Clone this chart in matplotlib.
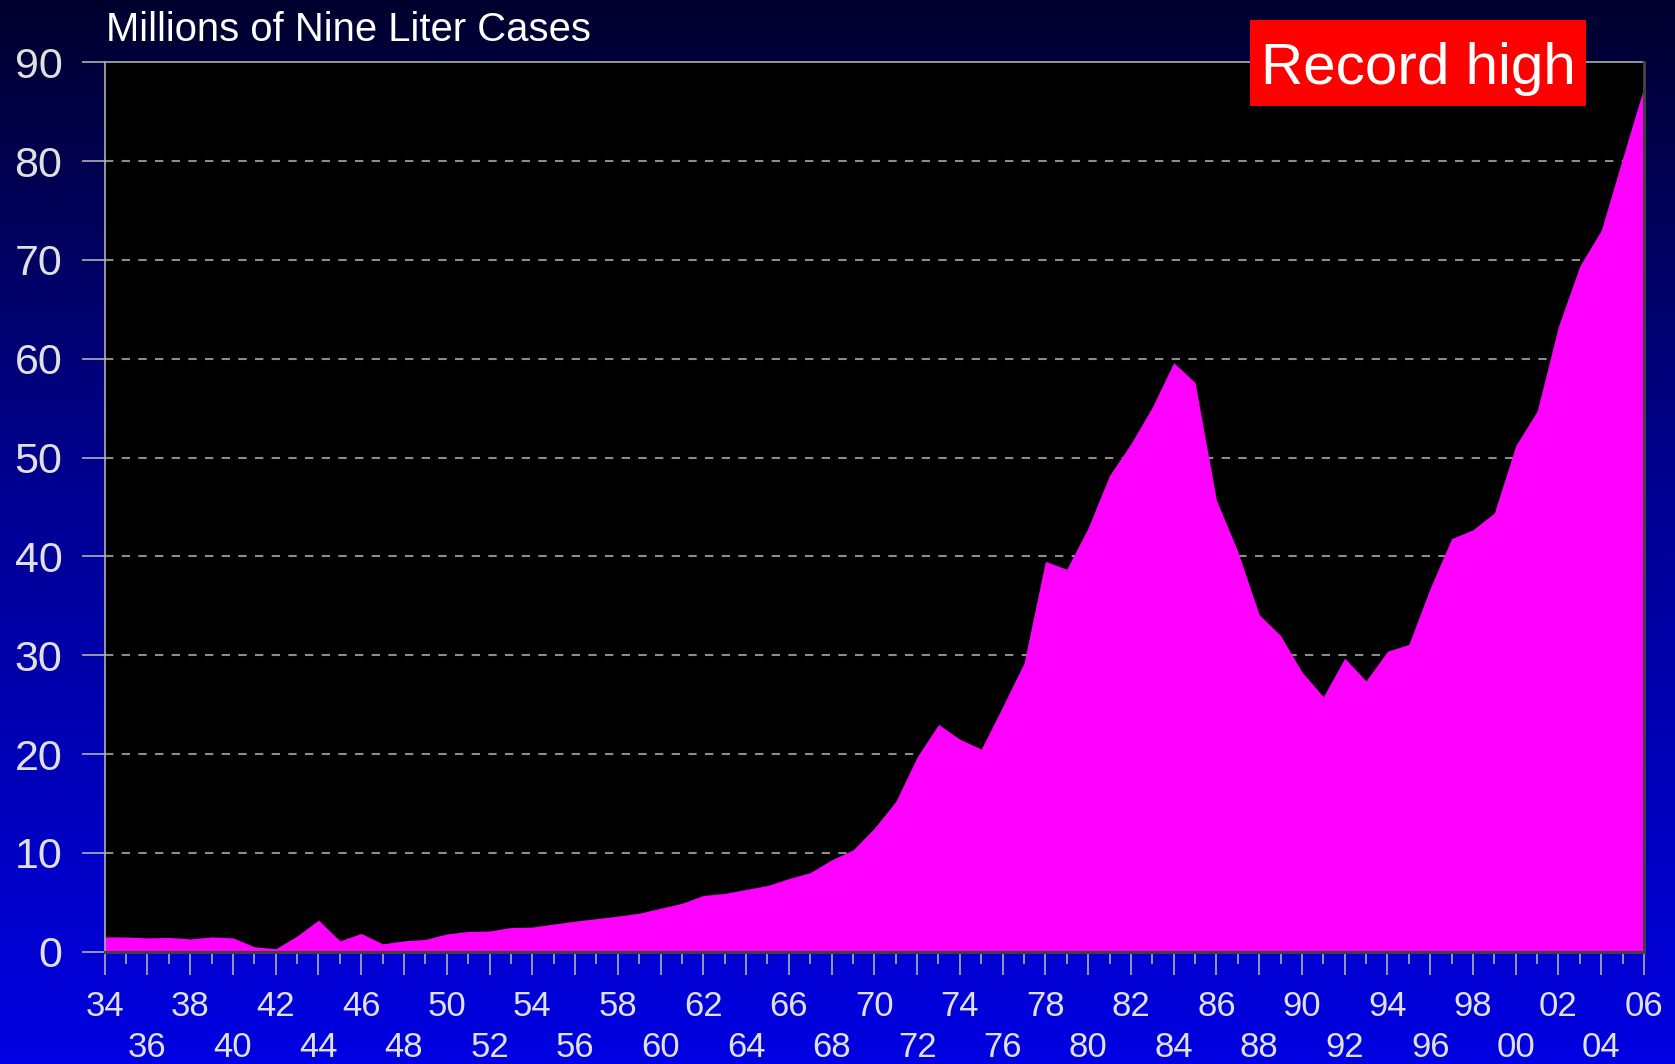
import numpy as np
import matplotlib

matplotlib.use("Agg")
import matplotlib.pyplot as plt
from matplotlib.colors import LinearSegmentedColormap
from matplotlib.patches import Rectangle

plt.rcParams["font.family"] = ["Liberation Sans", "DejaVu Sans"]

# ── Data ──────────────────────────────────────────────────────────────
years = list(range(1934, 2007))
cases = [
    1.5, 1.5, 1.4, 1.45, 1.3, 1.5, 1.4, 0.5, 0.3, 1.6,       # 34-43
    3.2, 1.1, 1.85, 0.8, 1.1, 1.25, 1.8, 2.05, 2.1, 2.45,    # 44-53
    2.5, 2.8, 3.1, 3.35, 3.6, 3.9, 4.4, 4.9, 5.7, 5.9,       # 54-63
    6.3, 6.7, 7.4, 8.0, 9.3, 10.3, 12.5, 15.2, 19.7, 23.0,   # 64-73
    21.5, 20.5, 24.8, 29.2, 39.5, 38.7, 42.9, 48.2, 51.4, 55.1,  # 74-83
    59.6, 57.6, 45.7, 40.5, 34.1, 32.0, 28.3, 25.8, 29.7, 27.4,  # 84-93
    30.4, 31.1, 36.8, 41.8, 42.7, 44.4, 51.2, 54.7, 63.3, 69.4,  # 94-03
    73.0, 80.3, 87.5,                                         # 04-06
]
y_ticks = list(range(0, 91, 10))
title = "Millions of Nine Liter Cases"
badge = "Record high"

# ── Figure with blue gradient background ──────────────────────────────
fig = plt.figure(figsize=(16.75, 10.64), dpi=100)

bg = fig.add_axes([0, 0, 1, 1], zorder=-10)
bg_cmap = LinearSegmentedColormap.from_list(
    "bg", [(0.0, "#00002e"), (0.45, "#000090"), (1.0, "#0000e2")]
)
bg.imshow(np.linspace(0, 1, 256).reshape(-1, 1), aspect="auto",
          cmap=bg_cmap, extent=[0, 1, 0, 1], origin="upper")
bg.set_axis_off()

ax = fig.add_axes([0.0625, 0.1055, 0.919, 0.836])
ax.set_facecolor("black")

ax.fill_between(years, cases, 0, color="#ff00ff", linewidth=0, zorder=2)

ax.set_xlim(years[0], years[-1])
ax.set_ylim(0, 90)

# gridlines
for v in y_ticks[1:-1]:
    ax.axhline(v, color="#8c8c8c", linewidth=1.5, linestyle=(0, (4, 4)), zorder=1)

# spines
for side in ("top", "left"):
    ax.spines[side].set_color("#b0b0b0")
    ax.spines[side].set_linewidth(1.2)
for side in ("bottom", "right"):
    ax.spines[side].set_color("#404040")
    ax.spines[side].set_linewidth(2.2)
    ax.spines[side].set_zorder(3)

# y axis
ax.set_yticks(y_ticks)
ax.set_yticklabels([str(v) for v in y_ticks])
ax.tick_params(axis="y", length=16.5, width=1.2, color="#b0b0b0",
               labelsize=31, labelcolor="#e0e0e0", pad=14)

# x axis: long ticks on even years with two-row labels, short on odd
even = [y for y in years if y % 2 == 0]
odd = [y for y in years if y % 2 == 1]
ax.set_xticks(even)
labels = []
for i, y in enumerate(even):
    s = f"{y % 100:02d}"
    labels.append(s if i % 2 == 0 else "\n" + s)
ax.set_xticklabels(labels, linespacing=1.3)
ax.set_xticks(odd, minor=True)
ax.tick_params(axis="x", which="major", length=16.5, width=1.2, color="#b0b0b0",
               labelsize=25, labelcolor="#e0e0e0", pad=11)
ax.tick_params(axis="x", which="minor", length=8.5, width=1.2, color="#b0b0b0")

# title
fig.text(0.0635, 0.9618, title, color="white", fontsize=28.8,
         ha="left", va="baseline")

# "Record high" badge
fig.patches.append(Rectangle((1250 / 1675, 1 - 106 / 1064), 336 / 1675, 86 / 1064,
                             transform=fig.transFigure, facecolor="#ff0000",
                             edgecolor="none", zorder=5))
fig.text(1418 / 1675, 1 - 83.5 / 1064, badge, color="white", fontsize=42,
         ha="center", va="baseline", zorder=6)

fig.savefig("out.png", dpi=100, facecolor=fig.get_facecolor())
plt.close(fig)
